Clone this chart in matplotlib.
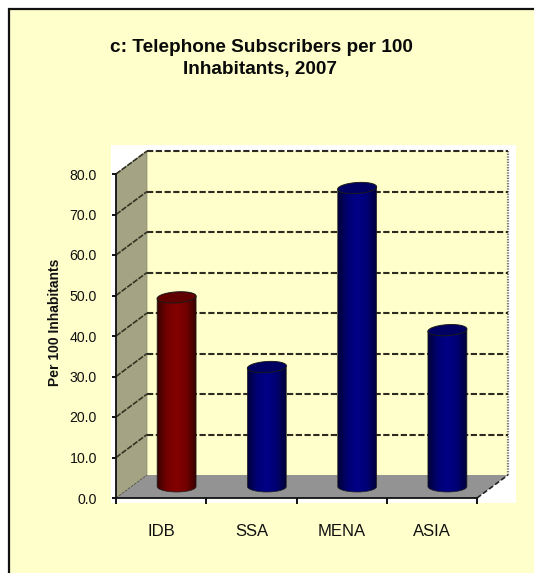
import numpy as np
import matplotlib
matplotlib.use("Agg")
import matplotlib.pyplot as plt
from matplotlib.colors import LinearSegmentedColormap
from matplotlib.patches import Polygon, Rectangle

categories = ["IDB", "SSA", "MENA", "ASIA"]
values = [46.7, 29.5, 73.7, 38.6]
bar_colors = ["red", "blue", "blue", "blue"]
y_ticks = [0, 10, 20, 30, 40, 50, 60, 70, 80]
title_lines = ["c: Telephone Subscribers per 100", "Inhabitants, 2007"]
y_label = "Per 100 Inhabitants"

W, H = 534, 573
plt.rcParams["font.family"] = ["Liberation Sans", "DejaVu Sans"]
fig = plt.figure(figsize=(W / 100, H / 100), dpi=100, facecolor="white")
CREAM = "#ffffcc"


def figrect(x0, y0, x1, y1, z, **kw):
    fig.add_artist(Rectangle((x0 / W, 1 - y1 / H), (x1 - x0) / W, (y1 - y0) / H,
                             transform=fig.transFigure, zorder=z, **kw))


figrect(9, 9, W + 5, H + 5, -3, facecolor=CREAM, edgecolor="#111111", linewidth=1.6)
figrect(111, 145, 516, 503, -2, facecolor="white", edgecolor="none")

ax = fig.add_axes([116 / W, 1 - 498 / H, 361 / W, 324 / H])
ax.patch.set_alpha(0)
DX = 31 / 361 * 4
DY = 23 / 324 * 80
n = len(categories)


def pr(x, y, d):
    return (x + d * DX, y + d * DY)


top = y_ticks[-1]
ax.add_patch(Polygon([pr(0, 0, 1), pr(n, 0, 1), pr(n, top, 1), pr(0, top, 1)],
                     closed=True, fc=CREAM, ec="none", zorder=1, clip_on=False))
ax.add_patch(Polygon([pr(0, 0, 0), pr(0, 0, 1), pr(0, top, 1), pr(0, top, 0)],
                     closed=True, fc="#a4a484", ec="#8a8a70", lw=0.5, zorder=1, clip_on=False))
ax.add_patch(Polygon([pr(0, 0, 0), pr(n, 0, 0), pr(n, 0, 1), pr(0, 0, 1)],
                     closed=True, fc="#939393", ec="none", zorder=1, clip_on=False))
# right edge of back wall and floor edge
xs, ys = zip(pr(n, 0, 1), pr(n, top, 1))
ax.plot(xs, ys, color="#777777", lw=1.6, ls=(0, (0.6, 0.6)), zorder=2, clip_on=False)
xs, ys = zip(pr(n, 0, 0), pr(n, 0, 1))
ax.plot(xs, ys, color="#222222", lw=1.2, ls=(0, (3, 1.5)), zorder=2, clip_on=False)
xs, ys = zip(pr(0, 0, 0), pr(0, 0, 1))
ax.plot(xs, ys, color="#555544", lw=0.6, ls=(0, (3, 1.5)), zorder=2, clip_on=False)

for v in y_ticks[1:]:
    xs, ys = zip(pr(0, v, 1), pr(n, v, 1))
    ax.plot(xs, ys, color="#2b2b1f", lw=1.5, ls=(0, (3.0, 1.2)), zorder=2, clip_on=False)
    xs, ys = zip(pr(0, v, 0), pr(0, v, 1))
    ax.plot(xs, ys, color="#333322", lw=1.2, ls=(0, (3.4, 0.8)), zorder=2, clip_on=False)

cmaps = {
    "red": LinearSegmentedColormap.from_list("r", ["#3a0000", "#740000", "#830000", "#740000", "#3a0000"]),
    "blue": LinearSegmentedColormap.from_list("b", ["#00003a", "#000074", "#000086", "#000074", "#00003a"]),
}
tops = {"red": "#600000", "blue": "#000062"}
grad = np.linspace(0, 1, 64).reshape(1, -1)
half_w = 19.5 / 361 * 4
semi_h = 5.5 / 324 * 80
tilt = 1.2 / 324 * 80
theta = np.linspace(0, 2 * np.pi, 90)

for i, (v, c) in enumerate(zip(values, bar_colors)):
    xc, y0 = pr(i + 0.5, 0, 0.5)
    _, y1 = pr(i + 0.5, v, 0.5)
    lower = np.linspace(np.pi, 2 * np.pi, 40)
    bx = xc + half_w * np.cos(lower)
    by = y0 + semi_h * np.sin(lower)
    tx = [xc + half_w, xc - half_w]
    ty = [y1 + tilt, y1 - tilt]
    body = Polygon(np.column_stack([np.r_[bx, tx], np.r_[by, ty]]), closed=True,
                   fc="none", ec="#222222", lw=0.5, zorder=4)
    ax.add_patch(body)
    im = ax.imshow(grad, extent=(xc - half_w, xc + half_w, y0 - semi_h, y1 + tilt),
                   cmap=cmaps[c], aspect="auto", zorder=3, interpolation="bilinear")
    im.set_clip_path(body)
    ex = xc + half_w * np.cos(theta)
    ey = y1 + semi_h * np.sin(theta) + tilt * np.cos(theta)
    ax.add_patch(Polygon(np.column_stack([ex, ey]), closed=True, fc=tops[c],
                         ec="#1a1a1a", lw=0.7, zorder=5, clip_on=False))

ax.set_xlim(0, n)
ax.set_ylim(0, top)
for s in ("top", "right"):
    ax.spines[s].set_visible(False)
for s in ("left", "bottom"):
    ax.spines[s].set_linewidth(1.3)
    ax.spines[s].set_color("#111111")
    ax.spines[s].set_zorder(6)
ax.set_yticks(y_ticks, [f"{v:.1f}" for v in y_ticks])
ax.set_xticks(np.arange(n + 1), [""] * (n + 1))
ax.set_xticks(np.arange(n) + 0.5, categories, minor=True)
ax.tick_params(axis="y", direction="out", length=3.2, width=1.3, pad=10.5, labelsize=10.2, labelcolor="#111111")
ax.tick_params(axis="x", which="major", direction="out", length=4.2, width=1.3)
ax.tick_params(axis="x", which="minor", length=0, pad=19, labelsize=12, labelcolor="#111111")

fig.text(261 / W, 1 - 47 / H, title_lines[0], ha="center", va="center",
         fontsize=13.7, fontweight="bold", color="#0a0a0a")
fig.text(260 / W, 1 - 70 / H, title_lines[1], ha="center", va="center",
         fontsize=13.7, fontweight="bold", color="#0a0a0a")
fig.text(55 / W, 1 - 322 / H, y_label, rotation=90, ha="center", va="center",
         fontsize=10, fontweight="bold", color="#111111")

fig.savefig("out.png", dpi=100, facecolor="white")
